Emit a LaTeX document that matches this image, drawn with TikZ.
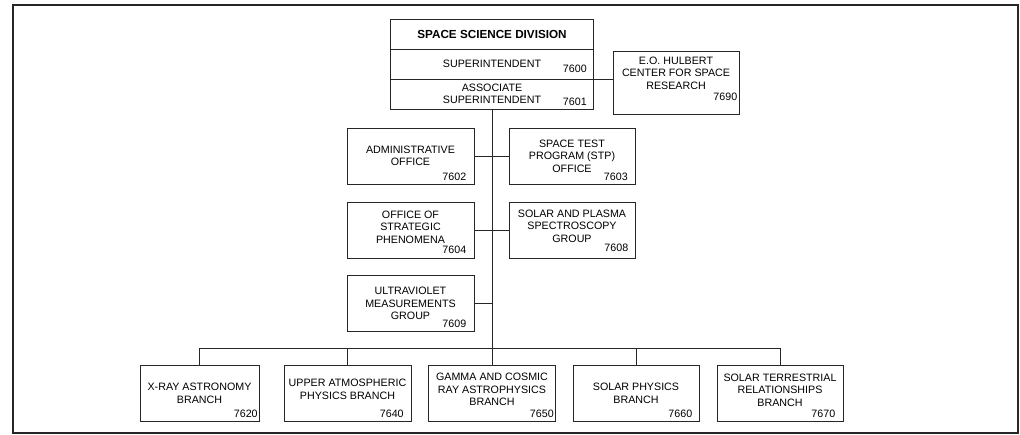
\documentclass[tikz,border=0pt]{standalone}
\usepackage{fontspec}
\setmainfont{Liberation Sans}
\usetikzlibrary{positioning}

\begin{document}
\begin{tikzpicture}[x=1pt, y=-1pt, font=\fontsize{10.7}{12.6}\selectfont,
  box/.style={draw=black!85, line width=0.8pt, minimum width=127pt, minimum height=56pt, align=center, inner sep=2pt},
  row/.style={box, minimum width=203pt, minimum height=30pt},
  txt/.style={align=center, inner sep=0pt},
  num/.style={anchor=base east, inner sep=0pt},
  wire/.style={draw=black!85, line width=0.8pt}]
  \useasboundingbox (0,0) rectangle (1020,435);
  \draw[line width=2pt, black!85] (13,5.3) rectangle (1018,433);
  % division head
  \node[row, font=\fontsize{11.7}{14}\selectfont\bfseries] (ssd) at (492,34) {SPACE SCIENCE DIVISION};
  \node[row] (sup) at (492,64) {SUPERINTENDENT};
  \node[row] (asc) at (492,94) {ASSOCIATE\\ SUPERINTENDENT};
  \node[num] (sup-n) at ([shift={(-7pt,7pt)}]sup.south east) {7600};
  \node[num] (asc-n) at ([shift={(-7pt,4pt)}]asc.south east) {7601};
  % hulbert center
  \node[box, minimum width=126pt, minimum height=63pt] (hul) at (676,82.5) {};
  \node[txt] (hul-t) at ([yshift=9.5pt]hul.center) {E.O. HULBERT\\ CENTER FOR SPACE\\ RESEARCH};
  \node[num] (hul-n) at ([shift={(-2pt,14pt)}]hul.south east) {7690};
  % staff offices
  \node[box] (adm) at (410.5,156) {ADMINISTRATIVE\\ OFFICE};
  \node[box, minimum width=126pt] (stp) at (572,156) {SPACE TEST\\ PROGRAM (STP)\\ OFFICE};
  \node[box] (osp) at (410.5,230) {};
  \node[txt] (osp-t) at ([yshift=3pt]osp.center) {OFFICE OF\\ STRATEGIC\\ PHENOMENA};
  \node[box, minimum width=126pt] (spg) at (572,230) {};
  \node[txt] (spg-t) at ([yshift=4pt]spg.center) {SOLAR AND PLASMA\\ SPECTROSCOPY\\ GROUP};
  \node[box] (uvm) at (410.5,303.5) {ULTRAVIOLET\\ MEASUREMENTS\\ GROUP};
  \node[num] (adm-n) at ([shift={(-8pt,4pt)}]adm.south east) {7602};
  \node[num] (stp-n) at ([shift={(-7.5pt,4pt)}]stp.south east) {7603};
  \node[num] (osp-n) at ([shift={(-8pt,5pt)}]osp.south east) {7604};
  \node[num] (spg-n) at ([shift={(-7pt,6.5pt)}]spg.south east) {7608};
  \node[num] (uvm-n) at ([shift={(-8pt,4.5pt)}]uvm.south east) {7609};
  % branches
  \node[box, minimum width=119pt] (xra) at (199.5,393.5) {X-RAY ASTRONOMY\\ BRANCH};
  \node[box] (uap) at (347.5,393.5) {};
  \node[txt] (uap-t) at ([yshift=4pt]uap.center) {UPPER ATMOSPHERIC\\ PHYSICS BRANCH};
  \node[box] (gcr) at (492,393.5) {};
  \node[txt] (gcr-t) at ([yshift=4pt]gcr.center) {GAMMA AND COSMIC\\ RAY ASTROPHYSICS\\ BRANCH};
  \node[box, minimum width=126pt] (sph) at (636,393.5) {SOLAR PHYSICS\\ BRANCH};
  \node[box, minimum width=126pt] (str) at (780,393.5) {};
  \node[txt] (str-t) at ([yshift=3.5pt]str.center) {SOLAR TERRESTRIAL\\ RELATIONSHIPS\\ BRANCH};
  \node[num] (xra-n) at ([shift={(-1.5pt,4pt)}]xra.south east) {7620};
  \node[num] (uap-n) at ([shift={(-7.5pt,4pt)}]uap.south east) {7640};
  \node[num] (gcr-n) at ([shift={(-2pt,4pt)}]gcr.south east) {7650};
  \node[num] (sph-n) at ([shift={(-7pt,4pt)}]sph.south east) {7660};
  \node[num] (str-n) at ([shift={(-8pt,4pt)}]str.south east) {7670};
  % lines
  \coordinate (bus) at (492,348);
  \draw[wire] (asc.south) -- (gcr.north);
  \draw[wire] (sup.south east) -- (sup.south east -| hul.west);
  \draw[wire] (adm.east) -- (stp.west);
  \draw[wire] (osp.east) -- (spg.west);
  \draw[wire] (uvm.east) -- (uvm.east -| asc.south);
  \draw[wire] (xra.north) -- (xra.north |- bus) -- (str.north |- bus) -- (str.north);
  \foreach \b in {uap,sph} \draw[wire] (\b.north) -- (\b.north |- bus);
\end{tikzpicture}
\end{document}
